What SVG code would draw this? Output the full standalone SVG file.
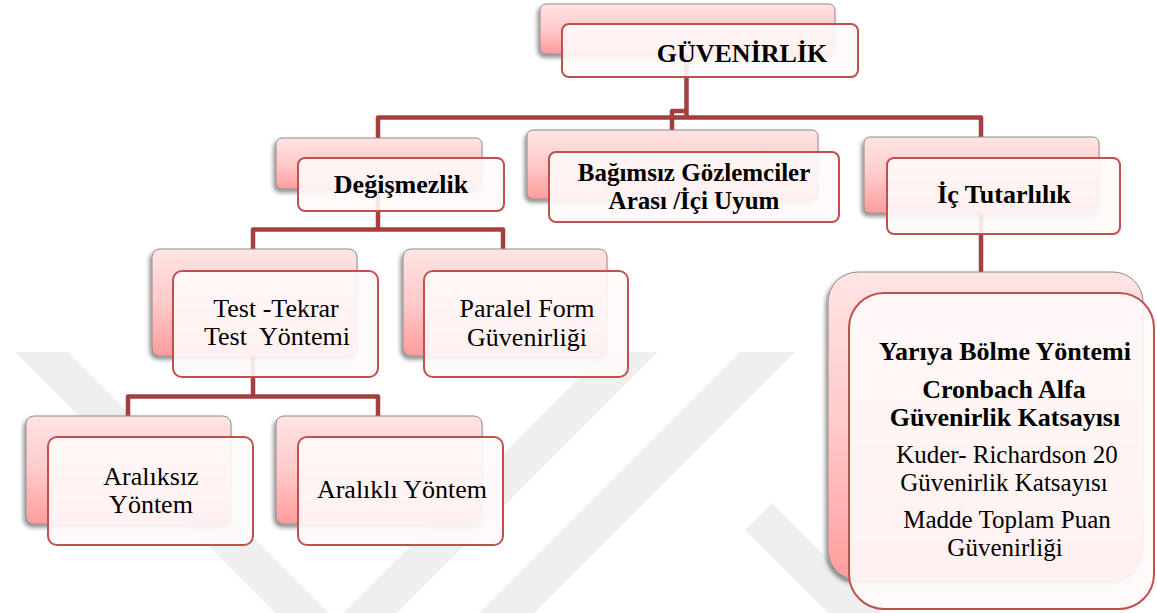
<svg xmlns="http://www.w3.org/2000/svg" width="1157" height="613" viewBox="0 0 1157 613">
<defs>
<linearGradient id="gBack" x1="0" y1="0" x2="0" y2="1">
<stop offset="0" stop-color="#ffe4e4"/>
<stop offset="0.5" stop-color="#ffcaca"/>
<stop offset="1" stop-color="#ff9c9c"/>
</linearGradient>
<filter id="sh" x="-10%" y="-10%" width="120%" height="130%">
<feDropShadow dx="-2" dy="3" stdDeviation="2" flood-color="#000" flood-opacity="0.45"/>
</filter>
<style>
.back{fill:url(#gBack);stroke:#8c8c8c;stroke-width:1;filter:url(#sh);}
.front{fill:#fffafa;fill-opacity:0.9;stroke:#c0504d;stroke-width:2;}
.conn{fill:none;stroke:#a33f3f;stroke-width:4.5;stroke-linejoin:round;stroke-linecap:butt;}
.wm{fill:#efefef;}
text{font-family:"Liberation Serif","Times New Roman",Times,"DejaVu Serif",serif;font-size:26px;fill:#000;text-anchor:middle;}
.b{font-weight:bold;}
.s{font-size:25px;}
</style>
</defs>
<rect x="0" y="0" width="1157" height="613" fill="#ffffff"/>
<g id="watermark">
<polygon class="wm" points="15,352 68,352 336,620 605,352 658,352 336,674"/>
<polygon class="wm" points="740,352 795,352 534,613 479,613"/>
<polygon class="wm" points="745,530 772,503 882,613 828,613"/>
</g>
<g id="connectors">
<path class="conn" d="M686.5,50 V117.5"/>
<path class="conn" d="M378,150 V117.5 H981 V150"/>
<path class="conn" d="M672,140 V111 H686.5"/>
<path class="conn" d="M981,200 V285"/>
<path class="conn" d="M378,180 V229.5"/>
<path class="conn" d="M253,260 V229.5 H503 V260"/>
<path class="conn" d="M253,340 V396.5"/>
<path class="conn" d="M128,430 V396.5 H378 V430"/>
</g>
<g id="guvenirlik">
<rect class="back" x="540" y="4" width="295" height="50" rx="6"/>
<rect class="front" x="562" y="24" width="296" height="53" rx="7"/>
<text class="b" x="742" y="62">GÜVENİRLİK</text>
</g>
<g id="degismezlik">
<rect class="back" x="276" y="138" width="206" height="51" rx="6"/>
<rect class="front" x="298" y="158" width="206" height="53" rx="7"/>
<text class="b" x="401" y="193">Değişmezlik</text>
</g>
<g id="bagimsiz">
<rect class="back" x="527" y="130" width="291" height="69" rx="6"/>
<rect class="front" x="549" y="152" width="290" height="70" rx="7"/>
<text class="b s" x="694" y="181">Bağımsız Gözlemciler</text>
<text class="b s" x="694" y="209">Arası /İçi Uyum</text>
</g>
<g id="ic-tutarlilik">
<rect class="back" x="864" y="137" width="235" height="76" rx="6"/>
<rect class="front" x="887" y="158" width="233" height="76" rx="7"/>
<text class="b" x="1004" y="203">İç Tutarlılık</text>
</g>
<g id="test-tekrar">
<rect class="back" x="152" y="249" width="205" height="107" rx="8"/>
<rect class="front" x="173" y="271" width="205" height="106" rx="9"/>
<text x="276" y="317">Test -Tekrar</text>
<text x="277" y="345" xml:space="preserve">Test  Yöntemi</text>
</g>
<g id="paralel-form">
<rect class="back" x="403" y="249" width="204" height="107" rx="8"/>
<rect class="front" x="424" y="271" width="204" height="106" rx="9"/>
<text x="527" y="317">Paralel Form</text>
<text x="527" y="346">Güvenirliği</text>
</g>
<g id="araliksiz">
<rect class="back" x="26" y="416" width="205" height="108" rx="8"/>
<rect class="front" x="48" y="437" width="205" height="108" rx="9"/>
<text x="151" y="485">Aralıksız</text>
<text x="151" y="513">Yöntem</text>
</g>
<g id="aralikli">
<rect class="back" x="276" y="416" width="206" height="108" rx="8"/>
<rect class="front" x="298" y="437" width="205" height="108" rx="9"/>
<text x="402" y="498">Aralıklı Yöntem</text>
</g>
<g id="ic-yontemler">
<rect class="back" x="828" y="272" width="315" height="308" rx="30"/>
<rect class="front" x="849" y="293" width="305" height="316" rx="35"/>
<text class="b" x="1005" y="360">Yarıya Bölme Yöntemi</text>
<text class="b" x="1004" y="398">Cronbach Alfa</text>
<text class="b" x="1005" y="426">Güvenirlik Katsayısı</text>
<text class="s" x="1007" y="463">Kuder- Richardson 20</text>
<text class="s" x="1004" y="491">Güvenirlik Katsayısı</text>
<text class="s" x="1007" y="528">Madde Toplam Puan</text>
<text class="s" x="1005" y="556">Güvenirliği</text>
</g>
</svg>
